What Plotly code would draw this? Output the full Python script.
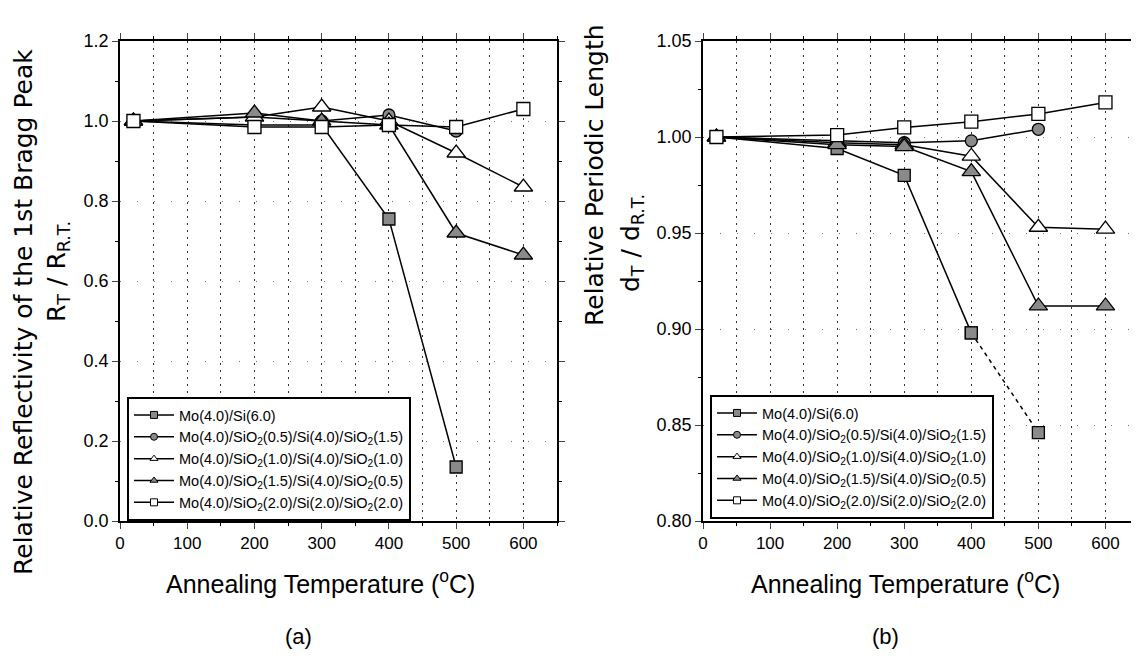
import plotly.graph_objects as go

# ---------------- data ----------------
temps = [20, 200, 300, 400, 500, 600]

series_names = [
    "Mo(4.0)/Si(6.0)",
    "Mo(4.0)/SiO<sub>2</sub>(0.5)/Si(4.0)/SiO<sub>2</sub>(1.5)",
    "Mo(4.0)/SiO<sub>2</sub>(1.0)/Si(4.0)/SiO<sub>2</sub>(1.0)",
    "Mo(4.0)/SiO<sub>2</sub>(1.5)/Si(4.0)/SiO<sub>2</sub>(0.5)",
    "Mo(4.0)/SiO<sub>2</sub>(2.0)/Si(2.0)/SiO<sub>2</sub>(2.0)",
]

# (a) relative reflectivity R_T / R_RT
refl_mosi = [1.00, 0.99, 0.99, 0.755, 0.135]
refl_s05 = [1.00, 1.01, 1.00, 1.015, 0.975]
refl_s10 = [1.00, 1.01, 1.035, 1.00, 0.92, 0.835]
refl_s15 = [1.00, 1.02, 1.00, 0.99, 0.72, 0.665]
refl_s20 = [1.00, 0.985, 0.985, 0.99, 0.985, 1.03]

# (b) relative periodic length d_T / d_RT
per_mosi = [1.000, 0.994, 0.980, 0.898]
per_mosi_dashed = [0.898, 0.846]
per_s05 = [1.000, 0.998, 0.997, 0.998, 1.004]
per_s10 = [1.000, 0.997, 0.996, 0.990, 0.953, 0.952]
per_s15 = [1.000, 0.996, 0.995, 0.982, 0.912, 0.912]
per_s20 = [1.000, 1.001, 1.005, 1.008, 1.012, 1.018]

x_ticks = [0, 100, 200, 300, 400, 500, 600]

# ---------------- styles ----------------
GRAY = "#8a8a8a"
styles = [
    dict(symbol="square", color=GRAY, size=12),
    dict(symbol="circle", color=GRAY, size=12),
    dict(symbol="triangle-up", color="white", size=16),
    dict(symbol="triangle-up", color=GRAY, size=16),
    dict(symbol="square", color="white", size=13),
]

FONT = "Liberation Sans, Arial, sans-serif"

fig = go.Figure()


def add_series(xs, ys, st, xaxis, yaxis, dash="solid"):
    fig.add_trace(go.Scatter(
        x=xs, y=ys, mode="lines+markers", xaxis=xaxis, yaxis=yaxis,
        showlegend=False, hoverinfo="skip",
        line=dict(color="black", width=1.5, dash=dash),
        marker=dict(symbol=st["symbol"], size=st["size"], color=st["color"],
                    line=dict(color="black", width=1.3)),
    ))


refl = [refl_mosi, refl_s05, refl_s10, refl_s15, refl_s20]
for ys, st in zip(refl, styles):
    add_series(temps[:len(ys)], ys, st, "x", "y")

per = [per_mosi, per_s05, per_s10, per_s15, per_s20]
for ys, st in zip(per, styles):
    add_series(temps[:len(ys)], ys, st, "x2", "y2")
add_series(temps[3:5], per_mosi_dashed, dict(symbol="square", color=GRAY, size=12),
           "x2", "y2", dash="4px,4px")

# legend-only dummy traces with small markers
for legend_id, xa, ya in [("legend", "x", "y"), ("legend2", "x2", "y2")]:
    for name, st in zip(series_names, styles):
        fig.add_trace(go.Scatter(
            x=[None], y=[None], mode="lines+markers", name=name,
            xaxis=xa, yaxis=ya, legend=legend_id,
            line=dict(color="black", width=1.5),
            marker=dict(symbol=st["symbol"], size=7, color=st["color"],
                        line=dict(color="black", width=1)),
        ))

W, H = 1139, 663
OFF = 8  # page body margin offset


def px_x(p):
    return (p - OFF) / W


def px_y(p):
    return 1 - (p - OFF) / H


ydom = [px_y(521), px_y(41)]

common_x = dict(
    range=[0, 650], tickvals=x_ticks, ticks="outside", ticklen=6, tickwidth=1.3,
    showline=True, linecolor="black", linewidth=1.5, mirror="allticks",
    tickfont=dict(family=FONT, size=17, color="black"),
    showgrid=True, gridcolor="#333", griddash="2px,5px", gridwidth=1,
    minor=dict(dtick=50, tick0=0, ticks="outside", ticklen=3, tickcolor="black",
               showgrid=True, gridcolor="#333", griddash="2px,5px", gridwidth=1),
    zeroline=False, automargin=False,
)
common_y = dict(
    ticks="outside", ticklen=6, tickwidth=1.3,
    showline=True, linecolor="black", linewidth=1.5, mirror="allticks",
    tickfont=dict(family=FONT, size=18, color="black"),
    showgrid=True, gridcolor="#777", griddash="1px,16px", gridwidth=1,
    zeroline=False, automargin=False,
)

fig.update_layout(
    width=W, height=H, margin=dict(l=0, r=0, t=0, b=0, autoexpand=False),
    paper_bgcolor="white", plot_bgcolor="white",
    font=dict(family=FONT, color="black"),
    xaxis=dict(domain=[px_x(120), px_x(557)], anchor="y", **common_x),
    yaxis=dict(domain=ydom, anchor="x", range=[0, 1.2], dtick=0.2, tickformat=".1f",
               minor=dict(dtick=0.1, ticks="outside", ticklen=3, tickcolor="black"),
               **common_y),
    xaxis2=dict(domain=[px_x(703), px_x(1139)], anchor="y2", **common_x),
    yaxis2=dict(domain=ydom, anchor="x2", range=[0.80, 1.05], dtick=0.05, tickformat=".2f",
                minor=dict(dtick=0.025, ticks="outside", ticklen=3, tickcolor="black"),
                **common_y),
    legend=dict(x=px_x(127), y=px_y(397), xanchor="left", yanchor="top",
                bgcolor="white", bordercolor="black", borderwidth=2,
                font=dict(family=FONT, size=14.5, color="black"),
                tracegroupgap=0, itemwidth=40),
    legend2=dict(x=px_x(710), y=px_y(395), xanchor="left", yanchor="top",
                 bgcolor="white", bordercolor="black", borderwidth=2,
                 font=dict(family=FONT, size=14.5, color="black"),
                 tracegroupgap=0, itemwidth=40),
)

TITLE_FONT = dict(family="DejaVu Sans, Liberation Sans, sans-serif", size=25, color="black")
annots = [
    dict(x=px_x(24), y=px_y(312), text="Relative Reflectivity of the 1st Bragg Peak", textangle=-90,
         font=TITLE_FONT),
    dict(x=px_x(58), y=px_y(272), text="R<sub>T</sub> / R<sub>R.T.</sub>", textangle=-90,
         font=TITLE_FONT),
    dict(x=px_x(594), y=px_y(175), text="Relative Periodic Length", textangle=-90,
         font=TITLE_FONT),
    dict(x=px_x(632), y=px_y(243), text="d<sub>T</sub> / d<sub>R.T.</sub>", textangle=-90,
         font=TITLE_FONT),
    dict(x=px_x(320), y=px_y(582), text="Annealing Temperature (<sup>o</sup>C)",
         font=dict(family=FONT, size=25, color="black")),
    dict(x=px_x(905), y=px_y(582), text="Annealing Temperature (<sup>o</sup>C)",
         font=dict(family=FONT, size=25, color="black")),
    dict(x=px_x(298), y=px_y(636), text="(a)", font=dict(family=FONT, size=22, color="black")),
    dict(x=px_x(885), y=px_y(636), text="(b)", font=dict(family=FONT, size=22, color="black")),
]
for a in annots:
    fig.add_annotation(xref="paper", yref="paper", showarrow=False,
                       xanchor="center", yanchor="middle", **a)

fig.write_html("out.html")
